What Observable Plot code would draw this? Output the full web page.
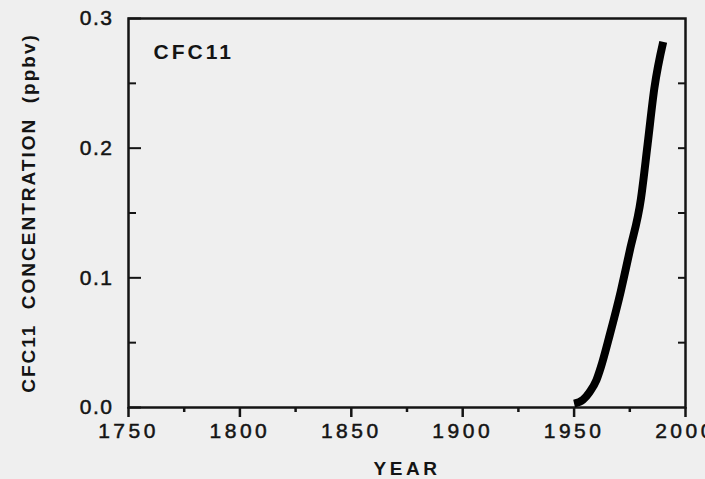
<!DOCTYPE html>
<html>
<head>
<meta charset="utf-8">
<script src="https://cdn.jsdelivr.net/npm/d3@7"></script>
<script src="https://cdn.jsdelivr.net/npm/@observablehq/plot@0.6"></script>
<style>
  html, body { margin: 0; padding: 0; background: #efefef; overflow: hidden; }
  #chart svg text { white-space: pre; letter-spacing: 2px; }
  #chart svg g[aria-label="x-axis tick label"] text { letter-spacing: 3.5px; stroke: #141414; stroke-width: 0.5px; }
  #chart svg g[aria-label="y-axis tick label"] text { letter-spacing: 1.5px; stroke: #141414; stroke-width: 0.5px; }
</style>
</head>
<body>
<div id="chart"></div>
<script>
// Data
const years  = [1950, 1954, 1957, 1960, 1962, 1966, 1971, 1975, 1980, 1983, 1986, 1990];
const values = [0.003, 0.006, 0.012, 0.021, 0.031, 0.056, 0.090, 0.121, 0.161, 0.203, 0.246, 0.282];

const xMajorTicks = [1750, 1800, 1850, 1900, 1950, 2000];
const xMinorTicks = [1775, 1825, 1875, 1925, 1975];
const yMajorTicks = [0.0, 0.1, 0.2, 0.3];
const yMinorTicks = [0.05, 0.15, 0.25];
const yRightTicks = [0.05, 0.1, 0.15, 0.2, 0.25];

const seriesName = "CFC11";
const yLabel = "CFC11  CONCENTRATION  (ppbv)";
const xLabel = "YEAR";

const data = years.map((y, i) => ({year: y, value: values[i]}));

const ink = "#141414";
const font = "Liberation Sans, Arial, Helvetica, sans-serif";

const chart = Plot.plot({
  width: 705,
  height: 479,
  marginTop: 18,
  marginRight: 20,
  marginBottom: 72,
  marginLeft: 128,
  style: {background: "#efefef", fontFamily: font, color: ink, overflow: "hidden"},
  x: {domain: [1750, 2000], nice: false},
  y: {domain: [0, 0.3], nice: false},
  marks: [
    Plot.frame({stroke: ink, strokeWidth: 2.5}),
    // x axis ticks (outward)
    Plot.axisX(xMajorTicks, {anchor: "bottom", tickSize: 10, strokeWidth: 2.5, stroke: ink, tickFormat: () => "", label: null}),
    Plot.axisX(xMinorTicks, {anchor: "bottom", tickSize: 5, strokeWidth: 2.5, stroke: ink, tickFormat: () => "", label: null}),
    Plot.axisX(xMajorTicks, {anchor: "bottom", tickSize: 0, tickPadding: 16, fontSize: 21, fill: ink, tickFormat: d => String(d), label: null}),
    // y axis ticks (inward)
    Plot.axisY(yMajorTicks, {anchor: "left", tickSize: -13, strokeWidth: 2, stroke: ink, tickFormat: () => "", label: null}),
    Plot.axisY(yMinorTicks, {anchor: "left", tickSize: -8, strokeWidth: 2, stroke: ink, tickFormat: () => "", label: null}),
    Plot.axisY(yRightTicks, {anchor: "right", tickSize: -8, strokeWidth: 2, stroke: ink, tickFormat: () => "", label: null}),
    Plot.axisY(yMajorTicks, {anchor: "left", tickSize: 0, tickPadding: 15, fontSize: 21, fill: ink, tickFormat: d3.format(".1f"), label: null}),
    // series
    Plot.line(data, {x: "year", y: "value", stroke: "#000", strokeWidth: 8, curve: "monotone-x", strokeLinecap: "butt"}),
    // labels
    Plot.text([seriesName], {frameAnchor: "top-left", dx: 25, dy: 34, textAnchor: "start", lineAnchor: "middle", fontSize: 21, fontWeight: "bold", fill: ink}),
    Plot.text([yLabel], {frameAnchor: "left", dx: -100, rotate: -90, lineAnchor: "middle", textAnchor: "middle", fontSize: 19, fontWeight: "bold", fill: ink}),
    Plot.text([xLabel], {frameAnchor: "bottom", dy: 61, lineAnchor: "middle", textAnchor: "middle", fontSize: 19, fontWeight: "bold", fill: ink})
  ]
});

document.getElementById("chart").appendChild(chart);

// letter-spacing tweaks for bold labels
d3.select(chart).selectAll("text").each(function() {
  const t = this.textContent;
  if (t === seriesName) this.style.letterSpacing = "3px";
  if (t === xLabel) this.style.letterSpacing = "3.5px";
});
</script>
</body>
</html>
